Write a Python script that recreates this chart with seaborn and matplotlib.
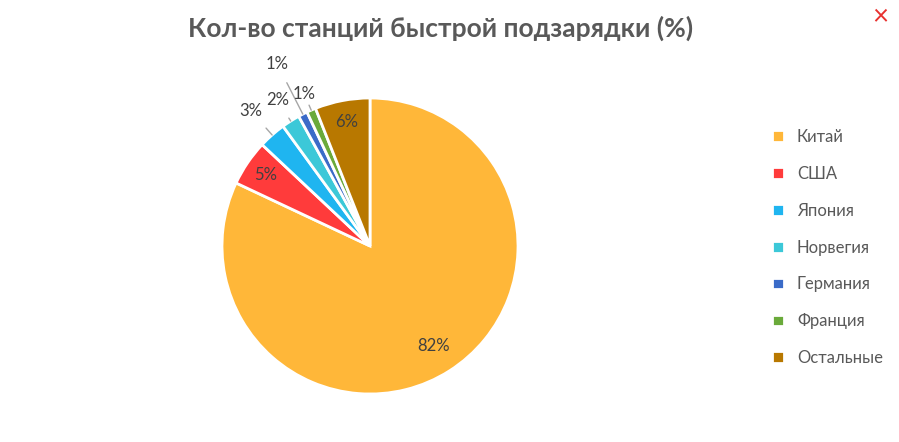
import numpy as np
import matplotlib
matplotlib.use("Agg")
import matplotlib.pyplot as plt
import seaborn as sns

categories = ["Китай", "США", "Япония", "Норвегия", "Германия", "Франция", "Остальные"]
values = [82, 5, 3, 2, 1, 1, 6]
colors = ["#FFB739", "#FF3B3B", "#1FB5F0", "#3CC8D8", "#3A6BC8", "#6AAA3A", "#B87800"]
label_dist = [0.8, 0.85, 1.22, 1.17, 1.38, 1.12, 0.85]

sns.set_theme(style="white", font="Lato")
fig = plt.figure(figsize=(8.99, 4.42), dpi=100)
ax = fig.add_axes([(370-148)/899, (442-246-148)/442, 296/899, 296/442])
wedges, _ = ax.pie(values, colors=sns.color_palette(colors), startangle=90, counterclock=False,
                   wedgeprops=dict(edgecolor="white", linewidth=2))
ax.set_aspect("equal")
ax.set_xlim(-1, 1)
ax.set_ylim(-1, 1)
for w, v, d in zip(wedges, values, label_dist):
    ang = np.deg2rad((w.theta1 + w.theta2) / 2)
    x, y = d*np.cos(ang), d*np.sin(ang)
    if d > 1:
        ax.annotate(f"{v}%", xy=(1.0*np.cos(ang), 1.0*np.sin(ang)), xytext=(x, y),
                    ha="center", va="center", fontsize=12, color="#404040",
                    annotation_clip=False,
                    arrowprops=dict(arrowstyle="-", color="#A6A6A6", lw=1,
                                    shrinkA=6, shrinkB=0))
    else:
        ax.text(x, y, f"{v}%", ha="center", va="center", fontsize=12, color="#404040")
fig.suptitle("Кол-во станций быстрой подзарядки (%)", x=0.49, y=0.965, fontsize=19,
             fontweight="bold", color="#595959")
fig.text(0.979, 0.96, "×", color="#E8312F", fontsize=20, ha="center", va="center")
fig.legend(wedges, categories, loc="center left", bbox_to_anchor=(0.842, 0.44), frameon=False,
           fontsize=12, handlelength=0.7, handleheight=0.7, labelspacing=1.25,
           labelcolor="#595959")
fig.savefig("out.png", dpi=100, facecolor="white")
